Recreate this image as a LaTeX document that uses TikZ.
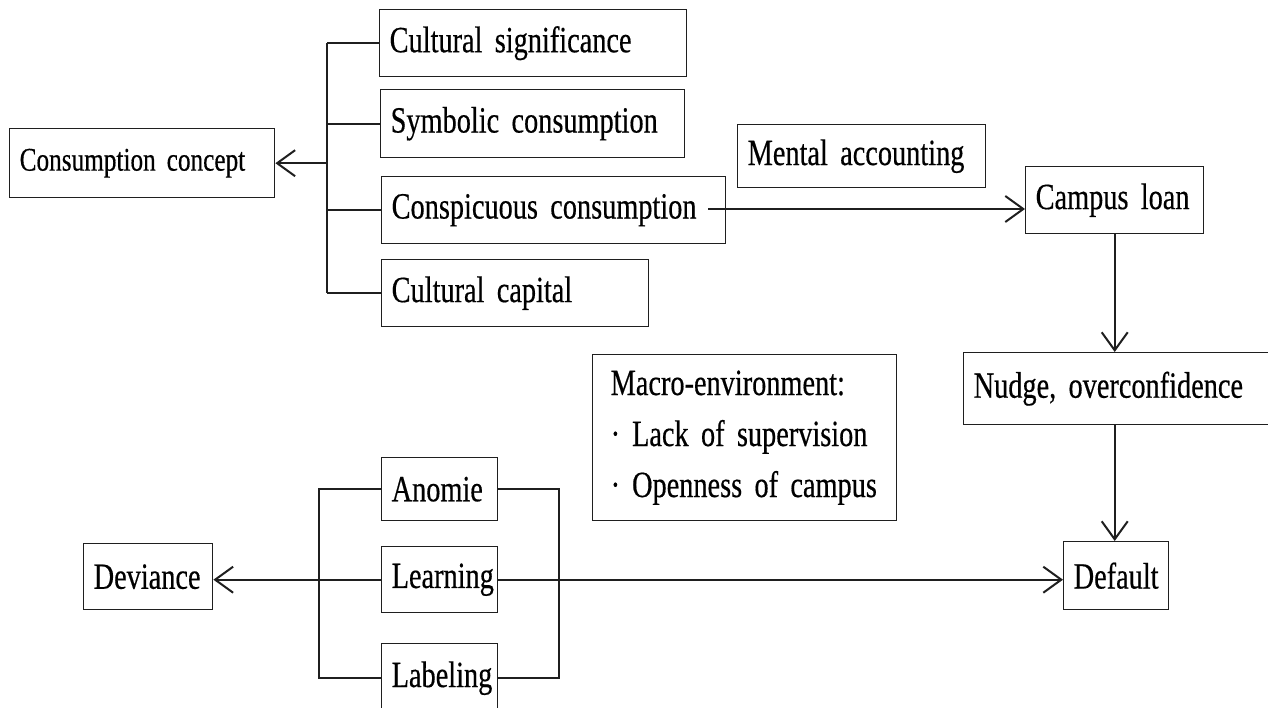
\documentclass[tikz,border=0pt]{standalone}
\usepackage{fontspec}
\setmainfont{Liberation Serif}[FakeStretch=0.765,FakeBold=0.4]
\usetikzlibrary{arrows.meta,calc}
\newcommand{\boxfont}[1]{\fontsize{#1}{51}\selectfont}
\begin{document}
\begin{tikzpicture}[x=1pt,y=-1pt,
  bx/.style={draw=black!88, line width=1.4pt, anchor=north west, inner xsep=10pt, inner ysep=0pt,
    align=left, font=\boxfont{37}},
  ln/.style={draw=black!88, line width=2pt},
  arr/.style={ln, -{Straight Barb[length=18pt,width=26pt,line width=2pt]}}]
\useasboundingbox (0,0) rectangle (1268,708);
\clip (0,0) rectangle (1268,708);
\fill[white] (0,0) rectangle (1268,708);
% upper left cluster
\node[bx, text width=245pt, minimum height=69pt, font=\boxfont{33}] (cc) at (9,128) {\mbox{Consumption concept}};
\node[bx, text width=287pt, minimum height=67pt] (cs) at (379,9) {\mbox{Cultural significance}};
\node[bx, text width=284pt, minimum height=68pt] (sc) at (380,89) {\mbox{Symbolic consumption}};
\node[bx, text width=324pt, minimum height=67pt] (cn) at (381,176) {\mbox{Conspicuous consumption}};
\node[bx, text width=247pt, minimum height=67pt] (cap) at (381,259) {\mbox{Cultural capital}};
\node[bx, text width=228pt, minimum height=63pt] (ma) at (737,124) {\mbox{Mental accounting}};
\node[bx, text width=158pt, minimum height=67pt] (cl) at (1025,166) {\mbox{Campus loan}};
\node[bx, text width=310pt, minimum height=72pt] (nd) at (963,352) {\mbox{Nudge, overconfidence}};
\node[bx, inner xsep=18pt, text width=268pt, minimum height=166pt] (mac) at (592,354)
  {\mbox{Macro-environment:}\\\mbox{·\hspace{12pt}Lack of supervision}\\\mbox{·\hspace{12pt}Openness of campus}};
\node[bx, text width=85pt, minimum height=68pt] (df) at (1063,541) {\mbox{Default}};
\node[bx, text width=96pt, minimum height=63pt] (an) at (381,457) {\mbox{Anomie}};
\node[bx, text width=96pt, minimum height=66pt] (le) at (381,546) {\mbox{Learning}};
\node[bx, text width=96pt, minimum height=69pt] (lb) at (381,643) {\mbox{Labeling}};
\node[bx, text width=109pt, minimum height=66pt] (dv) at (83,543) {\mbox{Deviance}};
% upper bracket
\coordinate (b1) at (327,0);
\draw[ln] (b1 |- cs.west) -- (b1 |- cap.west);
\draw[ln] (b1 |- cs.west) -- (cs.west);
\draw[ln] (b1 |- sc.west) -- (sc.west);
\draw[ln] (b1 |- cn.west) -- (cn.west);
\draw[ln] (b1 |- cap.west) -- (cap.west);
\draw[arr] (b1 |- cc.east) -- (cc.east);
% conspicuous -> campus loan
\coordinate (cnout) at (708,209);
\draw[arr] (cnout) -- (cnout -| cl.west);
\draw[arr] (cl.south) -- (cl.south |- nd.north);
\draw[arr] (cl.south |- nd.south) -- (cl.south |- df.north);
% lower brackets
\coordinate (b2) at (319,0);
\coordinate (b3) at (559,0);
\draw[ln] (an.west) -- (b2 |- an.west) -- (b2 |- lb.west) -- (lb.west);
\draw[ln] (an.east) -- (b3 |- an.east) -- (b3 |- lb.east) -- (lb.east);
\draw[arr] (le.west) -- (le.west -| dv.east);
\draw[arr] (le.east) -- (le.east -| df.west);
\end{tikzpicture}
\end{document}
